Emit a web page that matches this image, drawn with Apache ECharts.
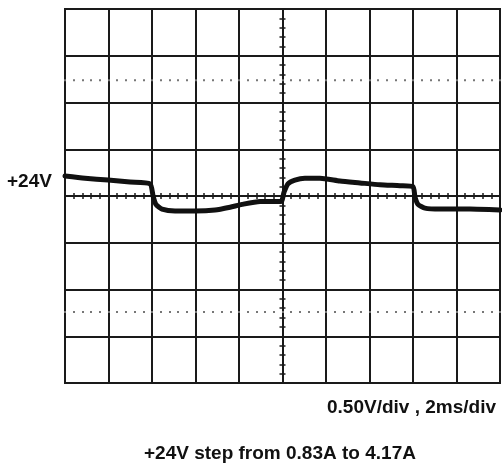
<!DOCTYPE html>
<html><head><meta charset="utf-8">
<script src="https://cdn.jsdelivr.net/npm/echarts@6/dist/echarts.min.js"></script>
<style>html,body{margin:0;padding:0;background:#fff}#c{width:502px;height:468px}</style>
</head><body><div id="c"></div>
<script>
// time in ms (2 ms/div), voltage in V (0.5 V/div, centre = 24 V)
const timeMs = [0, 0.92, 1.98, 2.99, 3.91, 4.05, 4.18, 4.46, 5.06, 5.98, 6.9, 7.59, 8.14, 8.97, 9.93, 10.07, 10.25, 10.57, 11.03, 11.72, 12.64, 13.56, 14.48, 15.4, 16.0, 16.09, 16.23, 16.55, 17.24, 18.62, 20];
const volts = [24.214, 24.19, 24.17, 24.15, 24.13, 24.0, 23.91, 23.86, 23.84, 23.84, 23.85, 23.88, 23.91, 23.94, 23.94, 24.04, 24.13, 24.17, 24.19, 24.19, 24.16, 24.14, 24.12, 24.11, 24.10, 23.99, 23.91, 23.87, 23.86, 23.86, 23.85];
const levelLabel = '+24V';
const scaleLabel = '0.50V/div , 2ms/div';
const titleLabel = '+24V step from 0.83A to 4.17A';

const FONT = '"Liberation Sans", Arial, sans-serif';
const GRID = {left: 65, top: 9, width: 435, height: 374};
const lineCol = '#1a1a1a';

function tickAxis(extra) {
  return Object.assign({
    type: 'value', min: 0, max: 20, interval: 0.4,
    axisLabel: {show: false}, splitLine: {show: false},
    axisLine: {show: false},
    axisTick: {show: true, length: 3, lineStyle: {color: lineCol, width: 1.5}}
  }, extra);
}
function tickYAxis(extra) {
  return Object.assign({
    type: 'value', min: 22, max: 26, interval: 0.1,
    axisLabel: {show: false}, splitLine: {show: false},
    axisLine: {show: false},
    axisTick: {show: true, length: 3, lineStyle: {color: lineCol, width: 1.5}}
  }, extra);
}
const dotTick = {show: true, length: 2, lineStyle: {color: '#777', width: 2}};

const data = timeMs.map((t, i) => [t, volts[i]]);
const chart = echarts.init(document.getElementById('c'));
chart.setOption({
  animation: false,
  backgroundColor: '#fff',
  grid: Object.assign({show: true, borderColor: lineCol, borderWidth: 2, backgroundColor: 'transparent'}, GRID),
  xAxis: [
    {type: 'value', min: 0, max: 20, interval: 2, axisLabel: {show: false}, axisTick: {show: false}, axisLine: {show: false},
     splitLine: {show: true, lineStyle: {color: lineCol, width: 2}}},
    tickAxis({position: 'bottom', offset: -GRID.height / 2, axisLine: {show: true, lineStyle: {color: lineCol, width: 2}}}),
    tickAxis({position: 'bottom', offset: -GRID.height / 2, axisTick: {show: true, inside: true, length: 3, lineStyle: {color: lineCol, width: 1.5}}}),
    tickAxis({position: 'bottom', offset: -GRID.height * 1.5 / 8, axisTick: Object.assign({inside: true}, dotTick)}),
    tickAxis({position: 'top', offset: -GRID.height * 1.5 / 8, axisTick: Object.assign({inside: true}, dotTick)})
  ],
  yAxis: [
    {type: 'value', min: 22, max: 26, interval: 0.5, axisLabel: {show: false}, axisTick: {show: false}, axisLine: {show: false},
     splitLine: {show: true, lineStyle: {color: lineCol, width: 2}}},
    tickYAxis({position: 'left', offset: -GRID.width / 2, axisLine: {show: true, lineStyle: {color: lineCol, width: 2}}}),
    tickYAxis({position: 'left', offset: -GRID.width / 2, axisTick: {show: true, inside: true, length: 3, lineStyle: {color: lineCol, width: 1.5}}})
  ],
  series: [{
    type: 'line', data: data, xAxisIndex: 0, yAxisIndex: 0,
    showSymbol: false, smooth: 0.2,
    lineStyle: {color: '#111', width: 5, join: 'round', cap: 'round'},
    z: 10
  }],
  graphic: [
    {type: 'text', left: 7, top: 172, style: {text: levelLabel, font: 'bold 19px ' + FONT, fill: '#111'}},
    {type: 'text', right: 6, top: 398, style: {text: scaleLabel, font: 'bold 19px ' + FONT, fill: '#111'}},
    {type: 'text', left: 144, top: 444, style: {text: titleLabel, font: 'bold 19px ' + FONT, fill: '#111'}}
  ]
});
</script></body></html>
